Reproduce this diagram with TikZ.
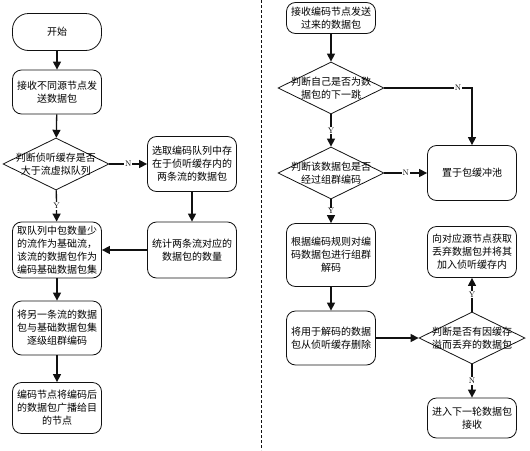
\documentclass[tikz,border=0pt]{standalone}
\usepackage{fontspec}
\usepackage{xcolor}
\usepackage{tikz}
\usetikzlibrary{shapes.geometric,arrows.meta,positioning}
\newfontfamily\cjk{Noto Sans CJK SC}
\definecolor{ink}{HTML}{111111}
\tikzset{
  box/.style={draw=ink, line width=0.8pt, rounded corners=9pt, align=center, inner sep=0pt,
    minimum width=89pt, font=\cjk\fontsize{10}{13}\selectfont},
  termbox/.style={box, rounded corners=16pt},
  dia/.style={draw=ink, diamond, line width=0.8pt, inner sep=0pt, minimum width=106pt, minimum height=52pt},
  lbl/.style={align=center, font=\cjk\fontsize{10}{13}\selectfont},
  arr/.style={draw=ink, line width=1.3pt, -{Triangle[length=8pt,width=8pt]}},
  yn/.style={fill=white, inner sep=1pt, font=\fontsize{8}{9}\selectfont},
  divider/.style={draw=ink, line width=0.8pt, dash pattern=on 3pt off 2pt}
}
\begin{document}
\begin{tikzpicture}[x=1pt,y=-1pt]
  \useasboundingbox (0,0) rectangle (530,450);

  \node[termbox, minimum height=37pt] (start) at (57,32) {开始};
  \node[box, minimum height=44pt] (recv) at (57,92) {接收不同源节点发\\送数据包};
  \node[dia, label={[lbl]center:{判断侦听缓存是否\\大于流虚拟队列}}] (full) at (56,164) {};
  \node[box, minimum height=55pt] (pick) at (192,164) {选取编码队列中存\\在于侦听缓存内的\\两条流的数据包};
  \node[box, minimum height=56pt] (count) at (192,250) {统计两条流对应的\\数据包的数量};
  \node[box, minimum height=56pt] (base) at (57,250) {取队列中包数量少\\的流作为基础流，\\该流的数据包作为\\编码基础数据包集};
  \node[box, minimum height=54pt] (group) at (57,328) {将另一条流的数据\\包与基础数据包集\\逐级组群编码};
  \node[box, minimum height=51pt] (bcast) at (57,408) {编码节点将编码后\\的数据包广播给目\\的节点};

  \draw[divider] (261,0) -- (261,450);

  \node[box, minimum height=31pt] (rx) at (331,18) {接收编码节点发送\\过来的数据包};
  \node[dia, label={[lbl]center:{判断自己是否为数\\据包的下一跳}}] (hop) at (331,88) {};
  \node[dia, label={[lbl]center:{判断该数据包是否\\经过组群编码}}] (coded) at (331,173) {};
  \node[box, minimum height=55pt] (pool) at (472,173) {置于包缓冲池};
  \node[box, minimum height=63pt] (decode) at (331,255) {根据编码规则对编\\码数据包进行组群\\解码};
  \node[box, minimum height=54pt] (drop) at (331,338) {将用于解码的数据\\包从侦听缓存删除};
  \node[dia, label={[lbl]center:{判断是否有因缓存\\溢而丢弃的数据包}}] (lost) at (472,338) {};
  \node[box, minimum height=51pt] (fetch) at (472,252) {向对应源节点获取\\丢弃数据包并将其\\加入侦听缓存内};
  \node[box, minimum height=40pt] (next) at (472,418) {进入下一轮数据包\\接收};

  \draw[arr] (start) -- (recv);
  \draw[arr] (recv) -- (full);
  \draw[arr] (full) -- node[yn]{N} (pick);
  \draw[arr] (full) -- node[yn]{Y} (base);
  \draw[arr] (pick) -- (count);
  \draw[arr] (count) -- (base);
  \draw[arr] (base) -- (group);
  \draw[arr] (group) -- (bcast);

  \draw[arr] (rx) -- (hop);
  \draw[arr] (hop) -- node[yn]{Y} (coded);
  \draw[arr] (hop.east) -| node[yn, pos=0.42]{N} (pool);
  \draw[arr] (coded) -- node[yn]{N} (pool);
  \draw[arr] (coded) -- node[yn]{Y} (decode);
  \draw[arr] (decode) -- (drop);
  \draw[arr] (drop) -- (lost);
  \draw[arr] (lost) -- node[yn]{Y} (fetch);
  \draw[arr] (lost) -- node[yn]{N} (next);
\end{tikzpicture}
\end{document}
